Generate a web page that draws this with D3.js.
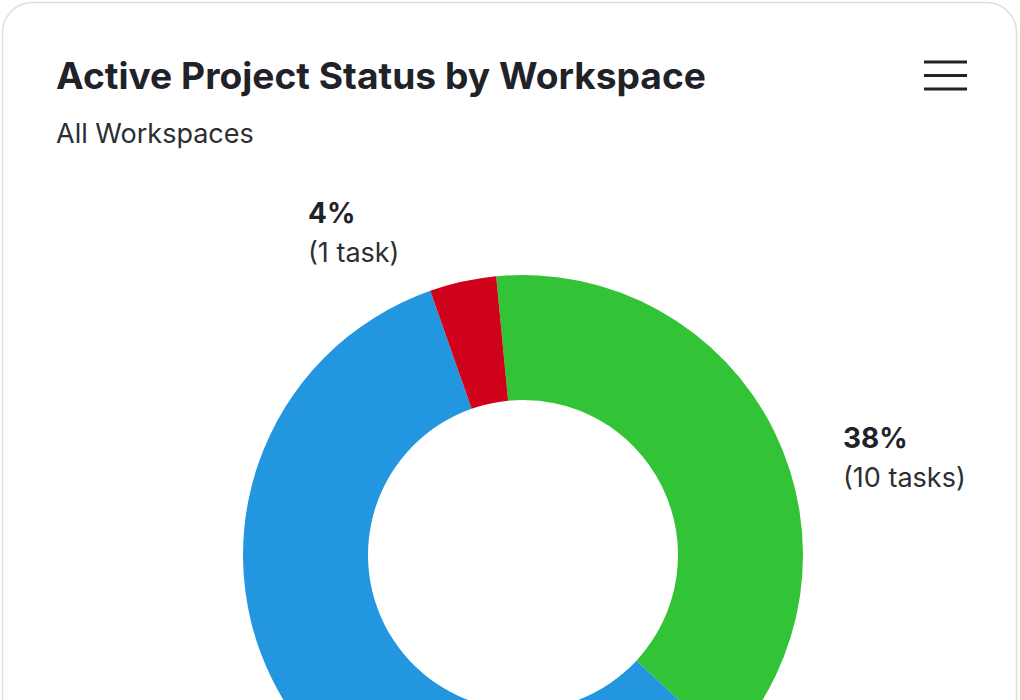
<!DOCTYPE html>
<html><head><meta charset="utf-8">
<script src="https://cdn.jsdelivr.net/npm/d3@7"></script>
<style>body{margin:0;background:#fff;font-family:Inter,"Noto Sans",sans-serif;}</style>
</head><body>
<svg id="chart" width="1020" height="700"></svg>
<script>
// --- data ---
var categories = ["Workspace A", "Workspace B", "Workspace C"];
var tasks = [10, 15, 1];
var colors = ["#33c336", "#2396e0", "#d0011b"];
var labelText = [["38%", "(10 tasks)"], null, ["4%", "(1 task)"]];
var labelPos = [[843, 448], null, [308, 223]];

var svg = d3.select("#chart");

// card
svg.append("rect").attr("x", 2.5).attr("y", 2.5).attr("width", 1014).attr("height", 760)
    .attr("rx", 30).attr("fill", "#fff").attr("stroke", "#dedede").attr("stroke-width", 1.5);

svg.append("text").attr("x", 56).attr("y", 89).text("Active Project Status by Workspace")
    .attr("font-size", 37).attr("font-weight", 700).attr("fill", "#1f2328")
    .attr("textLength", 650).attr("lengthAdjust", "spacingAndGlyphs");
svg.append("text").attr("x", 56).attr("y", 143).text("All Workspaces")
    .attr("font-size", 27).attr("fill", "#2b2f33");

// hamburger menu
[62, 75.5, 89].forEach(function (y) {
    svg.append("line").attr("x1", 924).attr("x2", 967).attr("y1", y).attr("y2", y)
        .attr("stroke", "#1f2328").attr("stroke-width", 3.2);
});

// donut
var cx = 523, cy = 555, rOuter = 280, rInner = 155;
var offset = -5.5 * Math.PI / 180;
var pie = d3.pie().sort(null).startAngle(offset).endAngle(offset + 2 * Math.PI);
var arc = d3.arc().innerRadius(rInner).outerRadius(rOuter);

svg.append("g").attr("transform", "translate(" + cx + "," + cy + ")")
    .selectAll("path").data(pie(tasks)).enter().append("path")
    .attr("d", arc).attr("fill", function (d, i) { return colors[i]; });

// labels
tasks.forEach(function (t, i) {
    if (!labelText[i]) return;
    var p = labelPos[i];
    svg.append("text").attr("x", p[0]).attr("y", p[1]).text(labelText[i][0])
        .attr("font-size", 28).attr("font-weight", 700).attr("fill", "#1f2328");
    svg.append("text").attr("x", p[0]).attr("y", p[1] + 39).text(labelText[i][1])
        .attr("font-size", 27).attr("fill", "#2b2f33");
});
</script>
</body></html>
